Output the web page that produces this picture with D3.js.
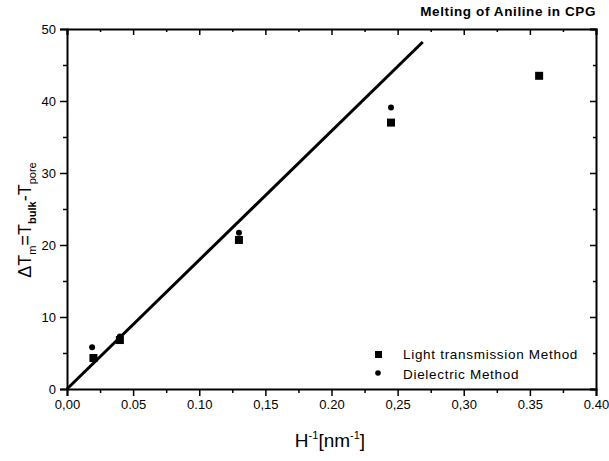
<!DOCTYPE html>
<html>
<head>
<meta charset="utf-8">
<script src="https://cdn.jsdelivr.net/npm/d3@7"></script>
<style>
  body { margin: 0; background: #fff; }
  svg { display: block; font-family: "Liberation Sans", Arial, sans-serif; }
</style>
</head>
<body>
<script>
// data
var lightX = [0.02, 0.04, 0.13, 0.245, 0.357];
var lightY = [4.3, 6.8, 20.7, 37.0, 43.5];
var dielX = [0.019, 0.04, 0.13, 0.245];
var dielY = [5.8, 7.3, 21.7, 39.1];
var fitX = [0, 0.269];
var fitY = [0, 48.2];
var xTicks = [0, 0.05, 0.10, 0.15, 0.20, 0.25, 0.30, 0.35, 0.40];
var xTickLabels = ["0,00", "0.05", "0.10", "0,15", "0.20", "0,25", "0,30", "0.35", "0.40"];
var yTicks = [0, 10, 20, 30, 40, 50];
var legendNames = ["Light transmission Method", "Dielectric Method"];

var width = 609, height = 461;
var mLeft = 67, mRight = 596, mTop = 29, mBottom = 389;

var svg = d3.select("body").append("svg")
  .attr("width", width)
  .attr("height", height);

var x = d3.scaleLinear().domain([0, 0.4]).range([mLeft, mRight]);
var y = d3.scaleLinear().domain([0, 50]).range([mBottom, mTop]);

// minor ticks
var xMinor = d3.range(0.025, 0.4, 0.05);
var yMinor = d3.range(5, 50, 10);

// bottom axis (ticks outward)
svg.append("g")
  .attr("transform", "translate(0," + mBottom + ")")
  .call(d3.axisBottom(x).tickValues(xTicks).tickSize(7).tickPadding(4)
    .tickFormat(function (d, i) { return xTickLabels[i]; }))
  .call(function (g) {
    g.selectAll("text").attr("font-size", 13).attr("fill", "#000");
  });
svg.append("g")
  .attr("transform", "translate(0," + mBottom + ")")
  .call(d3.axisBottom(x).tickValues(xMinor).tickSize(4).tickFormat(""))
  .call(function (g) { g.select(".domain").remove(); });

// left axis
svg.append("g")
  .attr("transform", "translate(" + mLeft + ",0)")
  .call(d3.axisLeft(y).tickValues(yTicks).tickSize(7).tickPadding(4))
  .call(function (g) {
    g.selectAll("text").attr("font-size", 13).attr("fill", "#000");
  });
svg.append("g")
  .attr("transform", "translate(" + mLeft + ",0)")
  .call(d3.axisLeft(y).tickValues(yMinor).tickSize(4).tickFormat(""))
  .call(function (g) { g.select(".domain").remove(); });

// top axis (ticks inward)
svg.append("g")
  .attr("transform", "translate(0," + mTop + ")")
  .call(d3.axisBottom(x).tickValues(xTicks).tickSize(6).tickFormat(""));
svg.append("g")
  .attr("transform", "translate(0," + mTop + ")")
  .call(d3.axisBottom(x).tickValues(xMinor).tickSize(3).tickFormat(""))
  .call(function (g) { g.select(".domain").remove(); });

// right axis (ticks inward)
svg.append("g")
  .attr("transform", "translate(" + mRight + ",0)")
  .call(d3.axisLeft(y).tickValues(yTicks).tickSize(6).tickFormat(""));
svg.append("g")
  .attr("transform", "translate(" + mRight + ",0)")
  .call(d3.axisLeft(y).tickValues(yMinor).tickSize(3).tickFormat(""))
  .call(function (g) { g.select(".domain").remove(); });

svg.selectAll(".domain").attr("stroke-width", 2);
svg.selectAll(".tick line").attr("stroke-width", 1.5);

// fit line
var line = d3.line()
  .x(function (d, i) { return x(fitX[i]); })
  .y(function (d, i) { return y(fitY[i]); });
svg.append("path")
  .datum(fitX)
  .attr("d", line)
  .attr("fill", "none")
  .attr("stroke", "#000")
  .attr("stroke-width", 3);

// light transmission squares
var sq = 8;
svg.selectAll("rect.light")
  .data(lightX)
  .enter().append("rect")
  .attr("class", "light")
  .attr("x", function (d) { return x(d) - sq / 2; })
  .attr("y", function (d, i) { return y(lightY[i]) - sq / 2; })
  .attr("width", sq)
  .attr("height", sq)
  .attr("fill", "#000");

// dielectric points
svg.selectAll("circle.diel")
  .data(dielX)
  .enter().append("circle")
  .attr("class", "diel")
  .attr("cx", function (d) { return x(d); })
  .attr("cy", function (d, i) { return y(dielY[i]); })
  .attr("r", 3)
  .attr("fill", "#000");

// legend
var lg = svg.append("g");
lg.append("rect")
  .attr("x", 375).attr("y", 351).attr("width", 7).attr("height", 7)
  .attr("fill", "#000");
lg.append("circle")
  .attr("cx", 378).attr("cy", 373).attr("r", 2.8)
  .attr("fill", "#000");
lg.selectAll("text")
  .data(legendNames)
  .enter().append("text")
  .attr("x", 403)
  .attr("y", function (d, i) { return 359 + i * 20; })
  .attr("font-size", 13.5)
  .attr("letter-spacing", 0.7)
  .text(function (d) { return d; });

// title
svg.append("text")
  .attr("x", 596).attr("y", 16)
  .attr("text-anchor", "end")
  .attr("font-size", 13.5)
  .attr("font-weight", "bold")
  .attr("letter-spacing", 0.6)
  .text("Melting of Aniline in CPG");

// x axis title
var xt = svg.append("text")
  .attr("x", 330).attr("y", 447)
  .attr("text-anchor", "middle")
  .attr("font-size", 19);
xt.append("tspan").text("H");
xt.append("tspan").attr("dy", -8).attr("font-size", 11).text("-1");
xt.append("tspan").attr("dy", 8).text("[nm");
xt.append("tspan").attr("dy", -8).attr("font-size", 11).text("-1");
xt.append("tspan").attr("dy", 8).text("]");

// y axis title
var yt = svg.append("text")
  .attr("transform", "translate(31,220) rotate(-90)")
  .attr("text-anchor", "middle")
  .attr("font-size", 18);
yt.append("tspan").text("\u0394T");
yt.append("tspan").attr("dy", 5).attr("font-size", 11).text("m");
yt.append("tspan").attr("dy", -5).text("=T");
yt.append("tspan").attr("dy", 5).attr("font-size", 11).attr("font-weight", "bold").text("bulk");
yt.append("tspan").attr("dy", -5).text("-T");
yt.append("tspan").attr("dy", 5).attr("font-size", 11).text("pore");
</script>
</body>
</html>
